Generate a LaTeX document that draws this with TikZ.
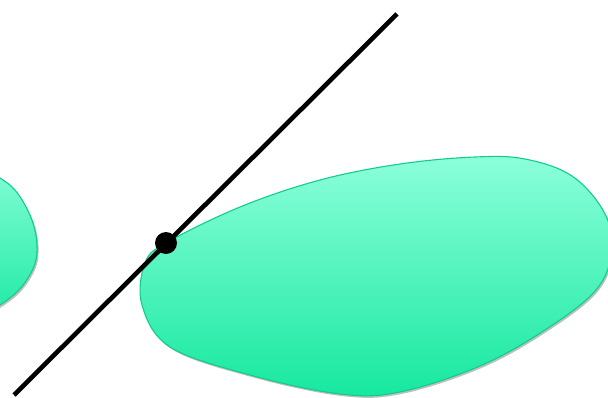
\documentclass[tikz,border=0pt]{standalone}
\usetikzlibrary{shadows}
\definecolor{mtop}{HTML}{8CFFDA}
\definecolor{mbot}{HTML}{16E89F}
\definecolor{mline}{HTML}{12CC8E}
\tikzset{
  blob/.style={draw=mline, line width=1.1pt, top color=mtop, bottom color=mbot,
    drop shadow={shadow xshift=1.5pt, shadow yshift=-2pt, opacity=0.25, fill=black}},
}
\begin{document}
\begin{tikzpicture}[x=1pt,y=-1pt]
\useasboundingbox (0,0) rectangle (608,398);
\clip (0,0) rectangle (608,398);
% left blob
\path[blob] plot[smooth cycle, tension=0.7] coordinates {(-40,165) (0,178) (25,205) (37,245) (28,278) (0,305) (-40,322) (-70,250)};
% main blob
\path[blob] plot[smooth cycle, tension=0.6] coordinates {
 (166,243) (240,207) (320,180) (400,164) (475,157) (525,159) (572,176) (604,212) (612,250)
 (596,290) (545,330) (480,366) (400,392) (340,394) (250,375) (170,347) (142,305) (145,263)};
% line and dot
\coordinate (p) at (14,395);
\coordinate (q) at (397,14);
\node[circle, fill=black, minimum size=22pt, inner sep=0pt] (t) at (166,243) {};
\draw[line width=4.6pt] (p) -- (q);
\end{tikzpicture}
\end{document}
